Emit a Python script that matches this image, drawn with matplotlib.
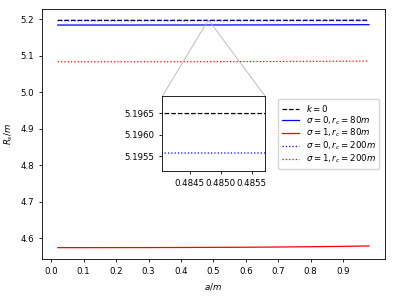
import numpy as np
import matplotlib.pyplot as plt
from mpl_toolkits.axes_grid1.inset_locator import mark_inset

plt.rcParams['font.size'] = 6.2

# datos
a = [0.02, 0.1, 0.2, 0.3, 0.4, 0.485, 0.6, 0.7, 0.8, 0.9, 0.98]
R_k0 = [5.19640, 5.19642, 5.19644, 5.19646, 5.19648, 5.19649, 5.19652, 5.19655, 5.19660, 5.19666, 5.19672]
R_s0_80 = [5.1836, 5.1836, 5.1836, 5.1837, 5.1837, 5.1838, 5.1839, 5.1840, 5.1842, 5.1844, 5.1846]
R_s1_80 = [4.5740, 4.5740, 4.5741, 4.5742, 4.5744, 4.5746, 4.5751, 4.5757, 4.5765, 4.5775, 4.5786]
R_s0_200 = [5.19550, 5.19551, 5.19552, 5.19554, 5.19556, 5.19558, 5.19561, 5.19565, 5.19570, 5.19576, 5.19582]
R_s1_200 = [5.0830, 5.0830, 5.0831, 5.0831, 5.0832, 5.0833, 5.0835, 5.0838, 5.0841, 5.0845, 5.0849]

xticks = [0.0, 0.1, 0.2, 0.3, 0.4, 0.5, 0.6, 0.7, 0.8, 0.9]

fig = plt.figure(figsize=(3.94, 2.96), dpi=100)
ax = fig.add_axes([0.107, 0.125, 0.869, 0.845])
lw = 0.9

def dibujar(axis):
    axis.plot(a, R_k0, '--', color='black', lw=lw, label='$k=0$')
    axis.plot(a, R_s0_80, '-', color='blue', lw=lw, label=r'$\sigma=0, r_c=80m$')
    axis.plot(a, R_s1_80, '-', color='red', lw=lw, label=r'$\sigma=1, r_c=80m$')
    axis.plot(a, R_s0_200, ':', color='blue', lw=lw, label=r'$\sigma=0, r_c=200m$')
    axis.plot(a, R_s1_200, ':', color='red', lw=lw, label=r'$\sigma=1, r_c=200m$')

dibujar(ax)
ax.set_xticks(xticks)
ax.set_xlabel('$a/m$')
ax.set_ylabel('$R_s/m$')
ax.legend(loc='center right', labelspacing=0.05, borderaxespad=0.6)
for s in ax.spines.values():
    s.set_linewidth(0.6)
ax.tick_params(width=0.6, length=2.2)

# zoom
axins = fig.add_axes([0.412, 0.423, 0.261, 0.252])
dibujar(axins)
axins.set_xlim(0.48406, 0.48572)
axins.set_ylim(5.19517, 5.19689)
axins.set_xticks([0.4845, 0.4850, 0.4855])
axins.set_yticks([5.1955, 5.1960, 5.1965])
axins.ticklabel_format(useOffset=False)
for s in axins.spines.values():
    s.set_linewidth(0.6)
axins.tick_params(width=0.6, length=2.2)
mark_inset(ax, axins, loc1=1, loc2=2, fc='none', ec='0.7', lw=0.6)

fig.savefig('out.png', dpi=100)
